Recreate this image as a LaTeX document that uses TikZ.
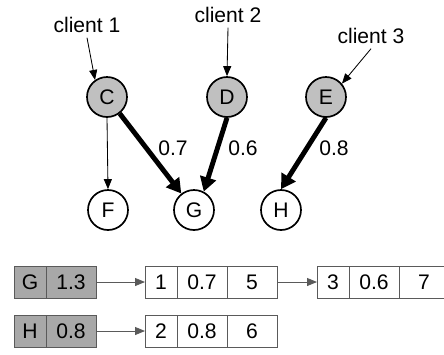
\documentclass[tikz,border=0pt]{standalone}
\usepackage{fontspec}
\setmainfont{Liberation Sans}
\definecolor{nodegray}{RGB}{192, 192, 192}
\definecolor{cellgray}{RGB}{168, 168, 168}
\definecolor{cellline}{RGB}{90, 90, 90}
\usetikzlibrary{arrows.meta, positioning}

\begin{document}
\begin{tikzpicture}[
    font=\fontsize{15}{18}\selectfont,
    vertex/.style={circle, draw, line width=1.2pt, minimum size=1cm, inner sep=0pt},
    source/.style={vertex, fill=nodegray},
    thinarrow/.style={line width=0.6pt, -{Triangle[length=0.25cm, width=0.2cm]}},
    heavyarrow/.style={line width=3.5pt, -{Triangle[length=0.36cm, width=0.4cm]}},
    cell/.style={draw=cellline, line width=0.6pt, minimum height=0.8cm, minimum width=0.8cm, inner sep=0pt, outer sep=0pt},
    widecell/.style={cell, minimum width=1.25cm},
    keycell/.style={cell, fill=cellgray},
    listarrow/.style={draw=cellline, line width=0.6pt, -{Triangle[length=0.25cm, width=0.2cm]}}
  ]
  \useasboundingbox (0,0) rectangle (11.1,-8.85);

  % Graph
  \node[source] (C) at (2.675, -2.425) {C};
  \node[source] (D) at (5.675, -2.425) {D};
  \node[source] (E) at (8.15, -2.425) {E};
  \node[vertex] (F) at (2.7, -5.25) {F};
  \node[vertex] (G) at (4.85, -5.25) {G};
  \node[vertex] (H) at (7.025, -5.25) {H};

  \node (client1) at (2.175, -0.625) {client 1};
  \node (client2) at (5.7, -0.375) {client 2};
  \node (client3) at (9.275, -0.9) {client 3};

  \draw[thinarrow] (client1.south) -- (C.125);
  \draw[thinarrow] (client2.south) -- (D.north);
  \draw[thinarrow] (client3.south) -- (E.40);

  \draw[thinarrow] (C.south) -- (F.north);
  \draw[heavyarrow] (C) -- (G);
  \draw[heavyarrow] (D.south) -- (G.62);
  \draw[heavyarrow] (E.south) -- (H.north);

  \node (w1) at (4.325, -3.7) {0.7};
  \node (w2) at (6.075, -3.7) {0.6};
  \node (w3) at (8.35, -3.7) {0.8};

  % Lists
  \node[keycell, anchor=west] (gk) at (0.35, -7.05) {G};
  \node[keycell, widecell, right=0pt of gk] (gv) {1.3};
  \node[cell, right=1.225cm of gv] (g1a) {1};
  \node[widecell, right=0pt of g1a] (g1b) {0.7};
  \node[widecell, right=0pt of g1b] (g1c) {5};
  \node[cell, right=1cm of g1c] (g2a) {3};
  \node[widecell, right=0pt of g2a] (g2b) {0.6};
  \node[widecell, right=0pt of g2b] (g2c) {7};

  \node[keycell, anchor=west] (hk) at (0.35, -8.275) {H};
  \node[keycell, widecell, right=0pt of hk] (hv) {0.8};
  \node[cell, right=1.225cm of hv] (h1a) {2};
  \node[widecell, right=0pt of h1a] (h1b) {0.8};
  \node[widecell, right=0pt of h1b] (h1c) {6};

  \draw[listarrow] (gv) -- (g1a);
  \draw[listarrow] (g1c) -- (g2a);
  \draw[listarrow] (hv) -- (h1a);
\end{tikzpicture}
\end{document}
